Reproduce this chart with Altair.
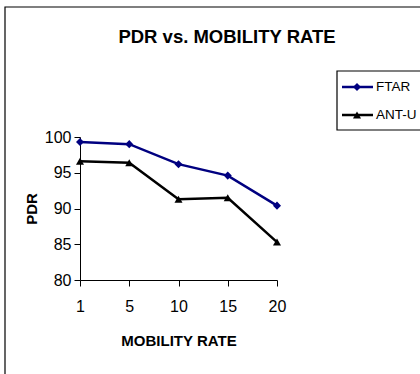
import altair as alt
import pandas as pd

# Mobility rate categories and PDR per protocol
mobility = [1, 5, 10, 15, 20]
ftar = [99.3, 99.0, 96.2, 94.6, 90.4]
ant_u = [96.6, 96.4, 91.3, 91.5, 85.3]
series_names = ["FTAR", "ANT-U"]
series_colors = ["#000080", "#000000"]
series_shapes = ["diamond", "triangle-up"]
y_ticks = [80, 85, 90, 95, 100]

FONT = "Liberation Sans"

df = pd.DataFrame({
    "mobility": mobility * 2,
    "pdr": ftar + ant_u,
    "series": ["FTAR"] * len(mobility) + ["ANT-U"] * len(mobility),
})

W, H = 197, 143
PAD_L, PAD_T = 80, 137

x_enc = alt.X(
    "mobility:O",
    sort=mobility,
    scale=alt.Scale(type="point", padding=0),
    axis=alt.Axis(
        title="MOBILITY RATE", labelAngle=0, labelFontSize=16, labelFont=FONT,
        titleFont=FONT, titleFontSize=15, titleFontWeight="bold",
        tickSize=6, labelPadding=12, titlePadding=19,
        domainColor="black", tickColor="black", labelColor="black", titleColor="black",
        grid=False,
    ),
)
y_enc = alt.Y(
    "pdr:Q",
    scale=alt.Scale(domain=[80, 100], nice=False, zero=False),
    axis=alt.Axis(
        title="PDR", values=y_ticks, labelFontSize=16, labelFont=FONT,
        titleFont=FONT, titleFontSize=15, titleFontWeight="bold",
        tickSize=6, labelPadding=3, titlePadding=5,
        domainColor="black", tickColor="black", labelColor="black", titleColor="black",
        grid=False,
    ),
)
color_enc = alt.Color(
    "series:N",
    scale=alt.Scale(domain=series_names, range=series_colors),
    legend=None,
)
shape_enc = alt.Shape(
    "series:N",
    scale=alt.Scale(domain=series_names, range=series_shapes),
    legend=None,
)

base = alt.Chart(df)
lines = base.mark_line(strokeWidth=2.5).encode(x=x_enc, y=y_enc, color=color_enc, detail="series:N")
points = base.mark_point(filled=True, opacity=1, size=65).encode(
    x=x_enc, y=y_enc, color=color_enc, shape=shape_enc
)

one = pd.DataFrame({"k": [0]})

# Outer chart border
frame = alt.Chart(one).mark_rect(fill=None, stroke="black", strokeWidth=1.2, clip=False).encode(
    x=alt.value(-75), x2=alt.value(360), y=alt.value(-130), y2=alt.value(260)
)

title = alt.Chart(one).mark_text(
    text="PDR vs. MOBILITY RATE", font=FONT, fontSize=18.5, fontWeight="bold",
    align="center", baseline="middle", color="black",
).encode(x=alt.value(147), y=alt.value(-100))

# Legend box with line + marker samples
legend_box = alt.Chart(one).mark_rect(fill="white", stroke="black", strokeWidth=1.2, clip=False).encode(
    x=alt.value(257), x2=alt.value(360), y=alt.value(-66), y2=alt.value(-7)
)
legend_layers = []
for i, (name, col, shp) in enumerate(zip(series_names, series_colors, series_shapes)):
    yy = -50 + i * 28
    ld = pd.DataFrame({"series": [name]})
    legend_layers.append(
        alt.Chart(ld).mark_rule(color=col, strokeWidth=2.5).encode(
            x=alt.value(262), x2=alt.value(293), y=alt.value(yy)
        )
    )
    legend_layers.append(
        alt.Chart(ld).mark_point(filled=True, opacity=1, size=65, color=col, shape=shp).encode(
            x=alt.value(277), y=alt.value(yy)
        )
    )
    legend_layers.append(
        alt.Chart(ld).mark_text(font=FONT, fontSize=13.5, align="left", baseline="middle", color="black").encode(
            text="series:N", x=alt.value(296), y=alt.value(yy)
        )
    )

chart = alt.layer(frame, title, lines, points, legend_box, *legend_layers).properties(
    width=W, height=H,
    autosize=alt.AutoSizeParams(type="none"),
    padding={"left": PAD_L, "top": PAD_T, "right": 420 - PAD_L - W, "bottom": 374 - PAD_T - H},
    background="white",
).configure_view(strokeWidth=0)

chart.save("out.html", embed_options={"renderer": "svg", "actions": False})
